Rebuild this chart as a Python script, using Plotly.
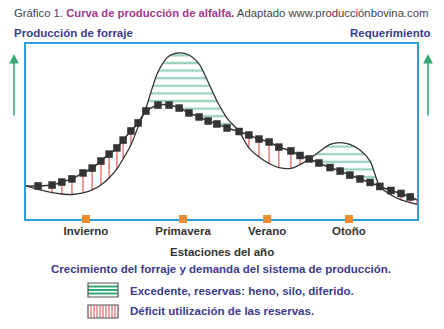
import numpy as np
import plotly.graph_objects as go

# ---------------- data ----------------
# time axis: months from the start of the year (0..12)
mes = [0.00, 0.37, 0.80, 1.10, 1.41, 1.75, 2.03, 2.30, 2.55, 2.79, 2.98, 3.22, 3.44,
       3.68, 4.05, 4.39, 4.70, 5.00, 5.31, 5.59, 5.86, 6.17, 6.54, 6.84, 7.15, 7.46,
       7.76, 8.13, 8.41, 8.69, 8.99, 9.33, 9.64, 9.94, 10.25, 10.56, 10.86, 11.20,
       11.51, 11.79, 12.00]
# forage production curve (relative units 0-100)
produccion = [18.9, 16.9, 15.1, 14.3, 14.0, 14.9, 16.6, 19.4, 23.4, 28.6, 34.3, 42.3, 52.6,
              63.4, 84.0, 93.1, 94.9, 93.7, 88.6, 78.3, 67.4, 57.7, 50.0, 40.6, 35.4, 31.7,
              29.4, 28.9, 31.1, 34.3, 38.3, 42.6, 43.7, 42.6, 39.4, 33.1, 18.6, 13.7,
              10.9, 9.4, 8.3]
# requirement (demand) of the production system
demanda = [18.9, 18.9, 19.4, 21.1, 22.9, 26.3, 29.1, 33.1, 37.1, 40.6, 45.1, 50.3, 54.9,
           61.7, 65.1, 65.1, 63.4, 60.6, 58.3, 56.0, 54.3, 52.0, 50.0, 48.0, 45.7, 44.0,
           41.1, 38.9, 36.3, 34.3, 32.0, 29.4, 27.4, 25.1, 22.9, 20.9, 18.6, 16.3,
           14.6, 12.6, 10.9]
estaciones = ["Invierno", "Primavera", "Verano", "Otoño"]
estaciones_mes = [1.84, 4.82, 7.40, 9.91]

FONT = "Liberation Sans, Arial, sans-serif"
NAVY = "#3b3b8e"
DARK = "#333333"
GREEN = "#35a874"
RED = "#e06666"
BLUE = "#2b9fd8"
ORANGE = "#f28c30"
FS = 11.5

xs = np.array(mes)
d = np.array(demanda)
p = np.array(produccion)
diff = p - d

# split into surplus / deficit segments
segs = []
cur = [(xs[0], d[0], p[0])]
for i in range(1, len(xs)):
    if diff[i - 1] * diff[i] < 0:
        t = diff[i - 1] / (diff[i - 1] - diff[i])
        xc = xs[i - 1] + t * (xs[i] - xs[i - 1])
        yc = d[i - 1] + t * (d[i] - d[i - 1])
        cur.append((xc, yc, yc))
        segs.append(cur)
        cur = [(xc, yc, yc)]
    cur.append((xs[i], d[i], p[i]))
    if abs(diff[i]) < 1e-9 and i < len(xs) - 1 and len(cur) > 1:
        segs.append(cur)
        cur = [(xs[i], d[i], p[i])]
if len(cur) > 1:
    segs.append(cur)

fig = go.Figure()

for seg in segs:
    sx = [s[0] for s in seg]
    sd = [s[1] for s in seg]
    sp = [s[2] for s in seg]
    surplus = sum(b - a for a, b in zip(sd, sp)) > 0
    if surplus:
        fig.add_trace(go.Scatter(
            x=sx + sx[::-1], y=sd + sp[::-1], mode="lines", fill="toself",
            line=dict(width=0), fillcolor="rgba(255,255,255,0)",
            fillpattern=dict(shape="-", fgcolor=GREEN, bgcolor="rgba(255,255,255,0)",
                             size=7.6, solidity=0.3),
            hoverinfo="skip", showlegend=False))

# deficit: red vertical lines from each demand point down to production
rx, ry = [], []
for xi, di, pi in zip(mes, demanda, produccion):
    if pi < di - 0.3:
        rx += [xi, xi, None]
        ry += [di, pi, None]
fig.add_trace(go.Scatter(x=rx, y=ry, mode="lines", line=dict(color=RED, width=1.3),
                         hoverinfo="skip", showlegend=False))

# production curve
fig.add_trace(go.Scatter(x=mes, y=produccion, mode="lines",
                         line=dict(color=DARK, width=1.3, shape="spline", smoothing=0.8),
                         showlegend=False))
# demand curve with square markers
fig.add_trace(go.Scatter(x=mes, y=demanda, mode="lines",
                         line=dict(color=DARK, width=1.5, shape="spline", smoothing=0.6),
                         showlegend=False))
fig.add_trace(go.Scatter(x=mes[1:-1], y=demanda[1:-1], mode="markers",
                         marker=dict(symbol="square", size=7.5, color=DARK),
                         showlegend=False))
# season markers on the axis
fig.add_trace(go.Scatter(x=estaciones_mes, y=[0] * len(estaciones_mes), mode="markers",
                         marker=dict(symbol="square", size=8, color=ORANGE),
                         cliponaxis=False, showlegend=False))

fig.update_layout(
    width=444, height=329,
    margin=dict(l=26, r=27, t=44, b=110, pad=0),
    paper_bgcolor="white", plot_bgcolor="white",
    font=dict(family=FONT, color=DARK),
    xaxis=dict(range=[0, 12], showgrid=False, zeroline=False, showline=True, mirror=True,
               linecolor=BLUE, linewidth=2, layer="below traces",
               tickmode="array", tickvals=estaciones_mes, ticktext=estaciones,
               ticks="", ticklen=0,
               tickfont=dict(family=FONT, size=FS, color=DARK, weight="bold")),
    yaxis=dict(range=[0, 100], showgrid=False, zeroline=False, showline=True, mirror=True,
               linecolor=BLUE, linewidth=2, layer="below traces", showticklabels=False,
               ticks=""),
    showlegend=False,
)

def px2paper(px, py):
    return (px - 26) / 391.0, (219 - py) / 175.0

ann = []
x0, y0 = px2paper(12, 13)
ann.append(dict(x=x0, y=y0, xref="paper", yref="paper", xanchor="left", yanchor="middle",
                showarrow=False,
                text=("<span style='color:#444'>Gráfico 1. </span>"
                      "<b><span style='color:#a2388c'>Curva de producción de alfalfa.</span></b>"
                      "<span style='color:#444'> Adaptado www.producciónbovina.com</span>"),
                font=dict(family=FONT, size=11.3)))
x0, y0 = px2paper(12, 33)
ann.append(dict(x=x0, y=y0, xref="paper", yref="paper", xanchor="left", yanchor="middle",
                showarrow=False, text="<b>Producción de forraje</b>",
                font=dict(family=FONT, size=FS, color=NAVY)))
x0, y0 = px2paper(433, 33)
ann.append(dict(x=x0, y=y0, xref="paper", yref="paper", xanchor="right", yanchor="middle",
                showarrow=False, text="<b>Requerimiento</b>",
                font=dict(family=FONT, size=FS, color=NAVY)))
x0, y0 = px2paper(222, 252)
ann.append(dict(x=x0, y=y0, xref="paper", yref="paper", xanchor="center", yanchor="middle",
                showarrow=False, text="<b>Estaciones del año</b>",
                font=dict(family=FONT, size=FS, color=DARK)))
x0, y0 = px2paper(221, 269)
ann.append(dict(x=x0, y=y0, xref="paper", yref="paper", xanchor="center", yanchor="middle",
                showarrow=False,
                text="<b>Crecimiento del forraje y demanda del sistema de producción.</b>",
                font=dict(family=FONT, size=FS, color=NAVY)))
for txt, py in [("Excedente, reservas: heno, silo, diferido.", 291),
                ("Déficit utilización de las reservas.", 311)]:
    x0, y0 = px2paper(128, py)
    ann.append(dict(x=x0, y=y0, xref="paper", yref="paper", xanchor="left", yanchor="middle",
                    showarrow=False, text="<b>" + txt + "</b>",
                    font=dict(family=FONT, size=FS, color=NAVY)))
# green arrows
for ax_px in (14, 428):
    x0, y0 = px2paper(ax_px, 54)
    ann.append(dict(x=x0, y=y0, xref="paper", yref="paper", showarrow=True,
                    ax=0, ay=63, axref="pixel", ayref="pixel",
                    arrowhead=2, arrowsize=1.2, arrowwidth=1.6, arrowcolor=GREEN, text=""))
fig.update_layout(annotations=ann)

# legend swatches
shapes = []
gx0, gy0 = px2paper(88, 283)
gx1, gy1 = px2paper(118, 297)
for py in (286.5, 290, 293.5):
    _, yy = px2paper(0, py)
    shapes.append(dict(type="line", xref="paper", yref="paper", x0=gx0, x1=gx1, y0=yy, y1=yy,
                       line=dict(color=GREEN, width=2)))
shapes.append(dict(type="rect", xref="paper", yref="paper", x0=gx0, x1=gx1, y0=gy0, y1=gy1,
                   line=dict(color="#555", width=1.2)))
rx0, ry0 = px2paper(88, 305)
rx1, ry1 = px2paper(118, 318)
for k in range(1, 10):
    xx, _ = px2paper(88 + 3 * k, 0)
    shapes.append(dict(type="line", xref="paper", yref="paper", x0=xx, x1=xx, y0=ry0, y1=ry1,
                       line=dict(color=RED, width=1.2)))
shapes.append(dict(type="rect", xref="paper", yref="paper", x0=rx0, x1=rx1, y0=ry0, y1=ry1,
                   line=dict(color="#555", width=1.2)))
fig.update_layout(shapes=shapes)

fig.write_html("out.html")
